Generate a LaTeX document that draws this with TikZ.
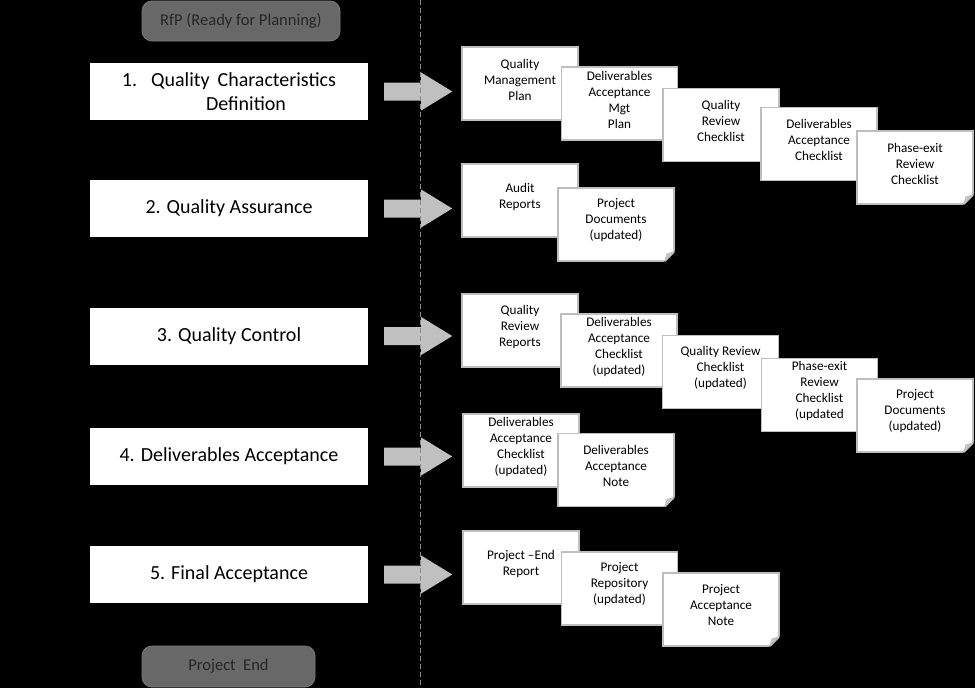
\documentclass[tikz,border=0pt]{standalone}
\usepackage{fontspec}
\setmainfont{Carlito}
\definecolor{docborder}{HTML}{BEBEBE}
\definecolor{foldgray}{HTML}{C8C8C8}
\definecolor{arrowgray}{HTML}{C0C0C0}
\definecolor{roundfill}{HTML}{686868}
\definecolor{roundedge}{HTML}{7A7A7A}
\definecolor{roundtext}{HTML}{262626}
\definecolor{dashgray}{HTML}{8C8C8C}
\newcommand\docnode[3]{%
  \node[docbox] (#1) at (#2) {};
  \fill[black] ([shift={(2,-11)}]#1.south east) -- ([shift={(2,2)}]#1.south east) -- ([shift={(-11,2)}]#1.south east) -- cycle;
  \draw[docborder, line width=1pt, fill=foldgray, line join=round] ([shift={(0,-9)}]#1.south east) -- ([shift={(-9,0)}]#1.south east) -- ([shift={(-7,-7)}]#1.south east) -- cycle;
  \draw[docborder, line width=1.6pt] ([shift={(0,-9)}]#1.south east) -- ([shift={(-9,0)}]#1.south east);
  \node[doctext] (#1t) at ([yshift=4pt]#1.center) {#3};}
\newcommand\blockarrow[1]{%
  \fill[arrowgray] ([shift={(16,-9)}]#1.east) -- ++(37,0) -- ++(0,-10) -- ++(31,19) -- ++(-31,19) -- ++(0,-10) -- ++(-37,0) -- cycle;}
\begin{document}
\begin{tikzpicture}[x=1pt,y=-1pt,
  stepbox/.style={fill=white, minimum width=278pt, minimum height=57pt, inner sep=0pt, font=\fontsize{20}{24}\selectfont, align=center},
  docbox/.style={draw=docborder, line width=1.6pt, fill=white, minimum width=116pt, minimum height=73pt, inner sep=0pt, outer sep=0pt},
  doctext/.style={font=\fontsize{13.2}{16}\selectfont, align=center, inner sep=0pt},
  milestone/.style={fill=roundfill, draw=roundedge, line width=0.8pt, rounded corners=10pt, text=roundtext, font=\fontsize{16.5}{20}\selectfont, inner sep=0pt}]
\fill[black] (0,0) rectangle (975,688);
\useasboundingbox (0,0) rectangle (975,688);

% milestones
\node[milestone, minimum width=198pt, minimum height=40pt] (rfp) at (241,21) {RfP (Ready for Planning)};
\node[milestone, minimum width=173pt, minimum height=41pt] (pend) at (228.5,666.5) {Project\ \ End};

% process steps
\node[stepbox] (s1) at (229,91.5) {1.\hspace{14pt}Quality\hspace{3.5pt} Characteristics\\\hspace*{34pt}Definition};
\node[stepbox] (s2) at (229,208.5) {2. Quality Assurance};
\node[stepbox] (s3) at (229,336) {3. Quality Control};
\node[stepbox] (s4) at (229,456.5) {4. Deliverables Acceptance};
\node[stepbox] (s5) at (229,574.5) {5. Final Acceptance};

% block arrows
\blockarrow{s1}
\blockarrow{s2}
\blockarrow{s3}
\blockarrow{s4}
\blockarrow{s5}

% dashed divider
\coordinate (dtop) at (420.5,0);
\coordinate (dbot) at (420.5,688);
\draw[dashgray, line width=1pt, dash pattern=on 5pt off 3pt] (dtop) -- (dbot);

% row 1
\docnode{ra}{520,83.5}{Quality\\Management\\Plan}
\docnode{rb}{619.5,103.5}{Deliverables\\Acceptance\\Mgt\\Plan}
\docnode{rc}{721,125}{Quality\\Review\\Checklist}
\docnode{rd}{819,144}{Deliverables\\Acceptance\\Checklist}
\docnode{re}{915,167.5}{Phase-exit\\Review\\Checklist}
% row 2
\docnode{qa}{520,200.5}{Audit\\Reports}
\docnode{qb}{616,224.5}{Project\\Documents\\(updated)}
% row 3
\docnode{ca}{520,330.5}{Quality\\Review\\Reports}
\docnode{cb}{619,350.5}{Deliverables\\Acceptance\\Checklist\\(updated)}
\docnode{cc}{720.5,372}{Quality Review\\Checklist\\(updated)}
\docnode{cd}{819.5,395}{Phase-exit\\Review\\Checklist\\(updated}
\docnode{ce}{915,415.5}{Project\\Documents\\(updated)}
% row 4
\docnode{da}{521,450.5}{Deliverables\\Acceptance\\Checklist\\(updated)}
\docnode{db}{616,470}{Deliverables\\Acceptance\\Note}
% row 5
\docnode{fa}{521,567.5}{Project --End\\Report}
\docnode{fb}{619.5,588.5}{Project\\Repository\\(updated)}
\docnode{fc}{721,609.5}{Project\\Acceptance\\Note}
\end{tikzpicture}
\end{document}
